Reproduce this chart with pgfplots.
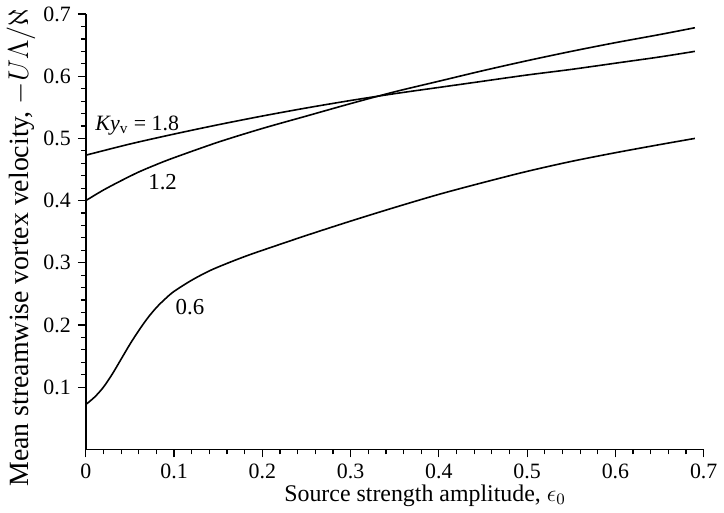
\documentclass[border=0pt]{standalone}
\usepackage{fontspec}
\setmainfont{Liberation Serif}
\usepackage{pgfplots}
\pgfplotsset{compat=1.18}

\begin{document}
\begin{tikzpicture}
\begin{axis}[
    scale only axis,
    width=309.5bp,
    height=218bp,
    xmin=0, xmax=0.7,
    ymin=0, ymax=0.7,
    axis x line=bottom,
    axis y line=left,
    axis line style={-, line width=0.7pt},
    xtick={0,0.1,0.2,0.3,0.4,0.5,0.6,0.7},
    xticklabels={0,0.1,0.2,0.3,0.4,0.5,0.6,0.7},
    ytick={0.1,0.2,0.3,0.4,0.5,0.6,0.7},
    yticklabels={0.1,0.2,0.3,0.4,0.5,0.6,0.7},
    minor x tick num=4,
    minor y tick num=4,
    tick align=outside,
    tickwidth=4bp,
    subtickwidth=2.5bp,
    xtick style={draw=black, line width=0.6pt},
    ytick style={draw=black, line width=0.6pt},
    ticklabel style={font=\fontsize{11}{13}\selectfont},
    xlabel={Source strength amplitude, $\epsilon_0$},
    ylabel={Mean streamwise vortex velocity, $-U\Lambda/\aleph$},
    xlabel style={font=\fontsize{12}{14}\selectfont, at={(axis description cs:0.549,-0.106)}, anchor=center},
    ylabel style={font=\fontsize{14}{16}\selectfont, at={(axis description cs:-0.105,0.463)}, anchor=center},
    clip=false,
]

% Ky_v = 1.8
\addplot[black, line width=0.8pt, smooth, no markers] coordinates {
    (0,0.473) (0.05,0.491) (0.10,0.507) (0.15,0.522) (0.20,0.536)
    (0.25,0.549) (0.30,0.561) (0.35,0.572) (0.40,0.582) (0.45,0.592)
    (0.50,0.602) (0.55,0.611) (0.60,0.621) (0.65,0.631) (0.69,0.640)
};

% Ky_v = 1.2
\addplot[black, line width=0.8pt, smooth, no markers] coordinates {
    (0,0.400) (0.02,0.417) (0.04,0.432) (0.06,0.446) (0.08,0.458)
    (0.10,0.469) (0.15,0.494) (0.20,0.516) (0.25,0.536) (0.30,0.556)
    (0.35,0.575) (0.40,0.592) (0.45,0.609) (0.50,0.625) (0.55,0.640)
    (0.60,0.654) (0.65,0.667) (0.69,0.678)
};

% Ky_v = 0.6
\addplot[black, line width=0.8pt, smooth, no markers] coordinates {
    (0,0.072) (0.01,0.084) (0.02,0.100) (0.03,0.121) (0.04,0.145)
    (0.05,0.169) (0.06,0.191) (0.07,0.211) (0.08,0.228) (0.09,0.242)
    (0.10,0.254) (0.12,0.272) (0.14,0.287) (0.16,0.299) (0.18,0.310)
    (0.20,0.320) (0.25,0.344) (0.30,0.367) (0.35,0.389) (0.40,0.410)
    (0.45,0.429) (0.50,0.447) (0.55,0.463) (0.60,0.477) (0.65,0.490)
    (0.69,0.500)
};

\node[anchor=west, font=\fontsize{11}{13}\selectfont] at (axis cs:0.003,0.521) {\textit{Ky}\textsubscript{v} = 1.8};
\node[font=\fontsize{11.5}{13}\selectfont] at (axis cs:0.087,0.43) {1.2};
\node[font=\fontsize{11.5}{13}\selectfont] at (axis cs:0.118,0.228) {0.6};

\end{axis}
\end{tikzpicture}
\end{document}
